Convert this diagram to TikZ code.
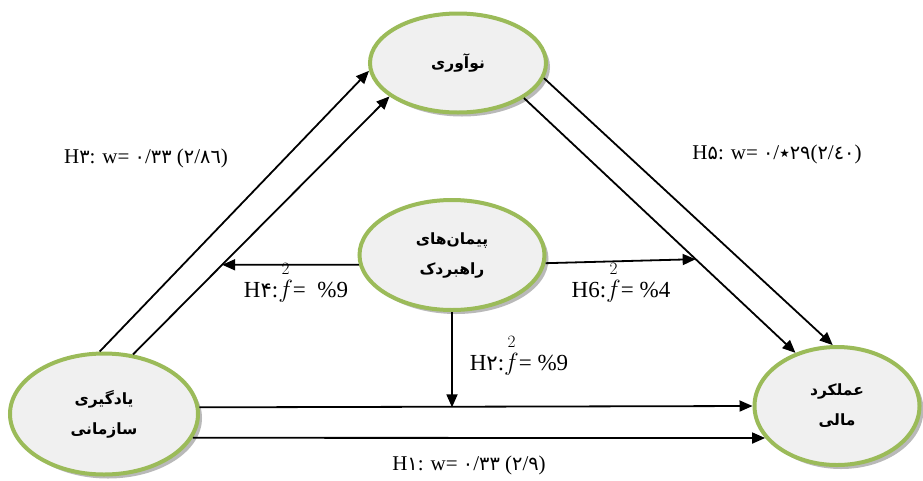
\documentclass[tikz,border=0pt]{standalone}
\usepackage{amsmath}
\usepackage{fontspec}
\setmainfont{Liberation Serif}
\newfontfamily\fafont[Script=Arabic]{DejaVu Sans}
\newfontfamily\digfont{DejaVu Sans}[Scale=0.92]
\TeXXeTstate=1
\usetikzlibrary{shapes.geometric,arrows.meta,shadows,intersections}
\newcommand\ftwo{$\overset{\scriptstyle 2}{f}$}
\newcommand\dg[1]{{\digfont #1}}
\definecolor{bgreen}{HTML}{9BBB59}
\tikzset{
  bubble/.style={ellipse, draw=bgreen, line width=4pt,
    fill=gray!12, inner sep=0pt, align=center,
    font=\fafont\bfseries\fontsize{15.5}{30}\selectfont,
    drop shadow={shadow xshift=4pt, shadow yshift=-4pt, fill=gray!55, opacity=1}},
  arr/.style={line width=1.8pt, -{Triangle[length=13pt,width=11pt]}},
  lbl/.style={font=\fontsize{21}{24}\selectfont, inner sep=0pt, anchor=base},
  flbl/.style={font=\fontsize{23}{26}\selectfont, inner sep=0pt, anchor=base}
}
\begin{document}
\begin{tikzpicture}[x=1pt,y=-1pt]
\useasboundingbox (0,0) rectangle (923,480);
\fill[white] (0,0) rectangle (923,480);
\node[bubble, minimum width=176pt, minimum height=99pt] (T) at (458,63) {\beginR نوآوری\endR};
\node[bubble, minimum width=185pt, minimum height=110pt] (M) at (452,255) {\beginR پیمان‌های\endR\\\beginR راهبردک\endR};
\node[bubble, minimum width=188pt, minimum height=121pt] (L) at (104,414) {\beginR یادگیری\endR\\\beginR سازمانی\endR};
\node[bubble, minimum width=165pt, minimum height=118pt] (R) at (837,406) {\beginR عملکرد\endR\\\beginR مالی\endR};
% H3
\draw[arr] (L.94) -- (T.185);
\draw[arr, name path=h3b] (L.64) -- (T.206);
% H5
\draw[arr] (T.-10) -- (R.94);
\draw[arr, name path=h5b] (T.-28) -- (R.128);
% H1
\draw[arr] (L.4) -- (R.180.7);
\draw[arr] (L.-15.2) -- (R.204.1);
% H2
\draw[arr] (M.south) -- (M.south |- L.4);
% H4
\path[name path=h4ray] (M.186) -- ++(-300,0);
\draw[arr, name intersections={of=h3b and h4ray, by=h4end}] (M.186) -- (h4end);
% H6
\path[name path=h6ray] (M.-5) -- ++(300,-8);
\draw[arr, name intersections={of=h5b and h6ray, by=h6end}] (M.-5) -- (h6end);
% labels
\node[lbl] (l3) at (146,163) {H\dg{۳}: w=\ \dg{۰}/\dg{۳۳} (\dg{۲}/\dg{۸٦})};
\node[lbl] (l5) at (777,159) {H\dg{۵}: w=\ \dg{۰}/\dg{۲۹٭}(\dg{۲}/\dg{٤۰})};
\node[lbl] (l1) at (469,470) {H\dg{۱}: w=\ \dg{۰}/\dg{۳۳} (\dg{۲}/\dg{۹})};
\node[flbl] (l4) at (296,297) {H\dg{۴}:\ftwo= \ \%9};
\node[flbl] (l6) at (621,297) {H6:\ftwo = \%4};
\node[flbl] (l2) at (519,370) {H\dg{۲}:\ftwo = \%9};
\end{tikzpicture}
\end{document}
